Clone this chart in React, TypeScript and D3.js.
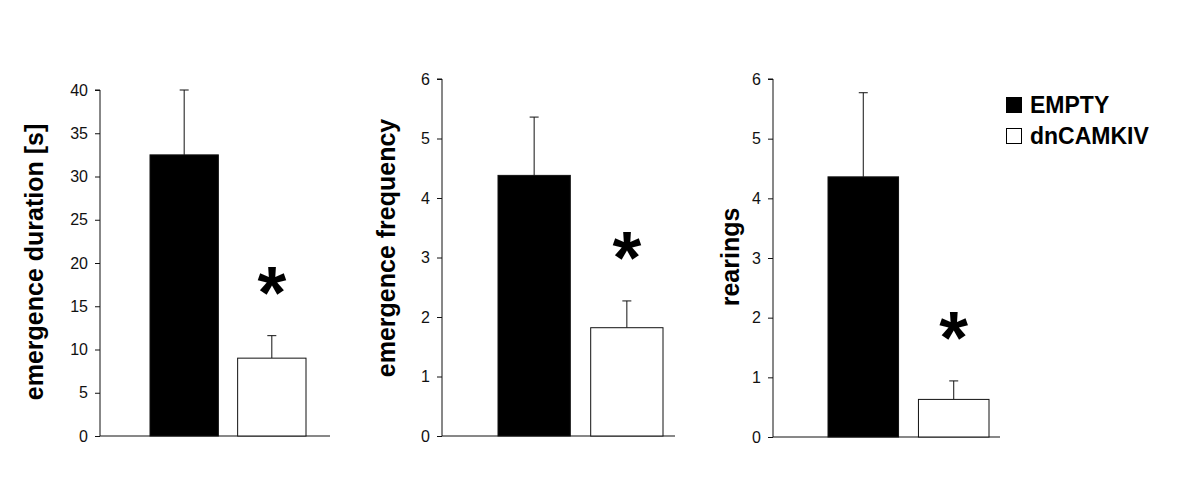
import { useEffect, useRef } from 'react'
import * as d3 from 'd3'

// groups + per-panel means and SEMs
const groups = ['EMPTY', 'dnCAMKIV']
const durationMean = [32.5, 9.0]
const durationSem = [7.5, 2.6]
const frequencyMean = [4.38, 1.82]
const frequencySem = [0.98, 0.45]
const rearingMean = [4.36, 0.63]
const rearingSem = [1.41, 0.31]
const yLabels = ['emergence duration [s]', 'emergence frequency', 'rearings']
const yMaxes = [40, 6, 6]
const yTickSteps = [5, 1, 1]

// layout per panel
const panels = [
  { axisX: 100, axisEnd: 330, top: 90, bottom: 436, bars: [150, 306], labelX: 43, labelY: 262 },
  { axisX: 442, axisEnd: 675, top: 79, bottom: 436, bars: [498, 663], labelX: 395, labelY: 248 },
  { axisX: 773, axisEnd: 1000, top: 79, bottom: 437, bars: [828, 989], labelX: 739, labelY: 257 },
]

const FONT = '"Liberation Sans", Arial, Helvetica, sans-serif'
const INK = '#111'

export default function App() {
  const svgRef = useRef<SVGSVGElement | null>(null)

  useEffect(() => {
    if (!svgRef.current) return
    const svg = d3.select(svgRef.current)
    svg.selectAll('*').remove()

    const means = [durationMean, frequencyMean, rearingMean]
    const sems = [durationSem, frequencySem, rearingSem]

    panels.forEach((p, i) => {
      const g = svg.append('g')
      const y = d3.scaleLinear().domain([0, yMaxes[i]]).range([p.bottom, p.top])
      const x = d3.scaleBand().domain(groups).range(p.bars as [number, number])
        .paddingInner(0.22).paddingOuter(0)

      const ticks = d3.range(0, yMaxes[i] + 1e-9, yTickSteps[i])

      // y axis
      g.append('g').attr('transform', `translate(${p.axisX},0)`)
        .call(d3.axisLeft(y).tickValues(ticks).tickSize(5).tickPadding(7).tickFormat(d3.format('d')))
        .call(ax => {
          ax.select('.domain').attr('stroke', INK).attr('d', `M-5,${p.top}H0V${p.bottom}`)
          ax.selectAll('.tick line').attr('stroke', INK)
          ax.selectAll('text').attr('fill', INK).attr('font-size', 16).attr('font-family', FONT)
        })

      // x baseline
      g.append('line')
        .attr('x1', p.axisX).attr('x2', p.axisEnd)
        .attr('y1', y(0)).attr('y2', y(0))
        .attr('stroke', INK).attr('stroke-width', 1)

      // error bars (upper only)
      groups.forEach((grp, j) => {
        const cx = (x(grp) as number) + x.bandwidth() / 2
        const hi = y(means[i][j] + sems[i][j])
        g.append('line').attr('x1', cx).attr('x2', cx)
          .attr('y1', y(means[i][j])).attr('y2', hi).attr('stroke', INK)
        g.append('line').attr('x1', cx - 4.5).attr('x2', cx + 4.5)
          .attr('y1', hi).attr('y2', hi).attr('stroke', INK)
      })

      // bars
      g.selectAll('rect.bar').data(groups).join('rect')
        .attr('class', 'bar')
        .attr('x', d => x(d) as number)
        .attr('y', (_, j) => y(means[i][j]))
        .attr('width', x.bandwidth())
        .attr('height', (_, j) => y(0) - y(means[i][j]))
        .attr('fill', (_, j) => (j === 0 ? '#000' : '#fff'))
        .attr('stroke', INK).attr('stroke-width', 1)

      // significance asterisk over dnCAMKIV
      const sx = (x(groups[1]) as number) + x.bandwidth() / 2
      const sy = y(means[i][1] + sems[i][1])
      g.append('text')
        .attr('x', sx).attr('y', sy - 18)
        .attr('text-anchor', 'middle')
        .attr('font-family', FONT).attr('font-weight', 700).attr('font-size', 74)
        .attr('fill', '#000')
        .text('*')

      // y label
      g.append('text')
        .attr('transform', `translate(${p.labelX},${p.labelY}) rotate(-90)`)
        .attr('text-anchor', 'middle')
        .attr('font-family', FONT).attr('font-weight', 700).attr('font-size', 25)
        .attr('fill', '#000')
        .text(yLabels[i])
    })

    // legend
    const lg = svg.append('g').attr('transform', 'translate(1006,97)')
    groups.forEach((grp, j) => {
      lg.append('rect')
        .attr('x', 0.5).attr('y', j * 31 + 0.5)
        .attr('width', 15).attr('height', 15)
        .attr('fill', j === 0 ? '#000' : '#fff').attr('stroke', '#000')
      lg.append('text')
        .attr('x', 24).attr('y', j * 31 + 16)
        .attr('font-family', FONT).attr('font-weight', 700).attr('font-size', 23)
        .attr('fill', '#000')
        .text(grp)
    })
  }, [])

  return (
    <svg
      ref={svgRef}
      width={1200}
      height={486}
      style={{ position: 'absolute', left: 0, top: 0, background: '#fff', display: 'block' }}
    />
  )
}
